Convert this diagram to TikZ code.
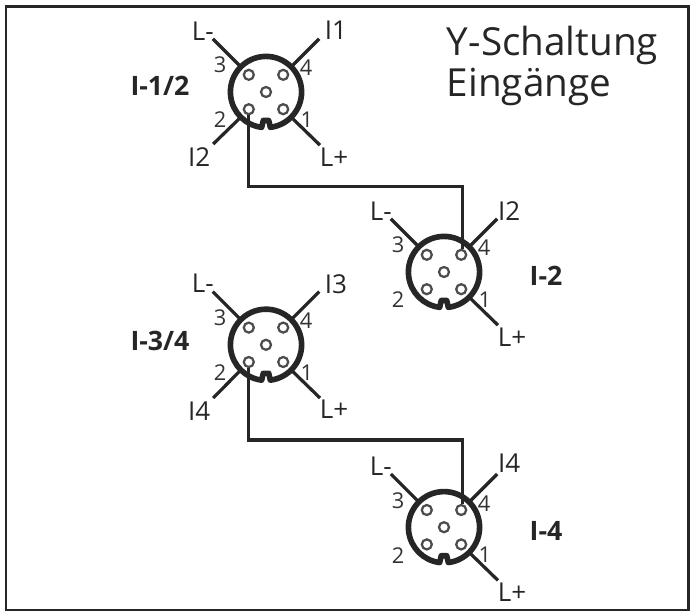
\documentclass[tikz,border=0pt]{standalone}
\usepackage{fontspec}
\setmainfont{Open Sans}
\begin{document}
\begin{tikzpicture}[
    rim/.style={line width=4pt, black!85, line join=round},
    rimbox/.style={circle, inner sep=0pt, minimum size=1.78cm},
    hole/.style={draw=black!70, circle, line width=1.6pt, inner sep=0pt, minimum size=0.25cm},
    lead/.style={line width=2.3pt, black!85},
    wire/.style={line width=2.3pt, black!85},
    num/.style={font=\fontsize{15.5}{15.5}\selectfont, black!80},
    sig/.style={font=\fontsize{18.5}{18.5}\selectfont, black!85},
    plugname/.style={font=\fontsize{19}{19}\selectfont\bfseries, black!85},
    heading/.style={font=\fontsize{27.5}{27.5}\selectfont, black!85, anchor=west}
]
    \useasboundingbox (0,0) rectangle (17.325,-15.35);
    \draw[line width=2pt, black!85] (0.15,-0.17) rectangle (17.22,-15.25);

    % Connectors
    \foreach \n/\x/\y in {a/6.65/-2.3, b/11.1/-6.8, c/6.65/-8.62, d/11.1/-13.18} {
        \begin{scope}[shift={(\x,\y)}]
            \node[rimbox] (\n) at (0,0) {};
            \draw[rim] (-83:0.89) arc[start angle=-83, end angle=263, radius=0.89]
                -- ++(0.04,0.17) -- ++(0.136,0) -- cycle;
            \node[hole] (\n-p0) at (0,0) {};
            \node[hole] (\n-p1) at (0.43,-0.43) {};
            \node[hole] (\n-p2) at (-0.43,-0.43) {};
            \node[hole] (\n-p3) at (-0.43,0.43) {};
            \node[hole] (\n-p4) at (0.43,0.43) {};
            \node[num] (\n-n1) at (1.02,-0.7) {1};
            \node[num] (\n-n2) at (-1.15,-0.7) {2};
            \node[num] (\n-n3) at (-1.15,0.67) {3};
            \node[num] (\n-n4) at (1.0,0.6) {4};
            \coordinate (\n-l1) at (1.35,-1.33);
            \coordinate (\n-l3) at (-1.33,1.33);
            \coordinate (\n-l4) at (1.33,1.33);
            \node[sig] (\n-minus) at (-1.58,1.53) {L-};
            \node[sig] (\n-plus) at (1.7,-1.62) {L+};
            \draw[lead] (\n.-45) -- (\n-l1);
            \draw[lead] (\n.135) -- (\n-l3);
            \draw[lead] (\n.45) -- (\n-l4);
        \end{scope}
    }

    % Signal labels
    \node[sig] (a-i4) at (8.4,-0.75) {I1};
    \node[sig] (a-i2) at (4.98,-3.92) {I2};
    \node[sig] (b-i4) at (12.73,-5.28) {I2};
    \node[sig] (c-i4) at (8.4,-7.1) {I3};
    \node[sig] (c-i2) at (4.98,-10.28) {I4};
    \node[sig] (d-i4) at (12.73,-11.58) {I4};

    % Names
    \node[plugname] (a-name) at (4,-2.15) {I-1/2};
    \node[plugname] (b-name) at (13.65,-6.9) {I-2};
    \node[plugname] (c-name) at (4,-8.52) {I-3/4};
    \node[plugname] (d-name) at (13.65,-13.28) {I-4};

    \node[heading] (head1) at (11.05,-1.13) {Y-Schaltung};
    \node[heading] (head2) at (11.05,-2.18) {Eingänge};

    % Leads of pin 2
    \coordinate (a-l2) at (5.33,-3.6);
    \coordinate (c-l2) at (5.33,-9.95);
    \draw[lead] (a.-135) -- (a-l2);
    \draw[lead] (c.-135) -- (c-l2);

    % Links
    \coordinate (ab) at (8,-4.66);
    \coordinate (cd) at (8,-11);
    \draw[wire] (a-p2.south) -- (a-p2.south |- ab) -| ([xshift=1pt]b-p4.north);
    \draw[wire] (c-p2.south) -- (c-p2.south |- cd) -| ([xshift=1pt]d-p4.north);
\end{tikzpicture}
\end{document}
